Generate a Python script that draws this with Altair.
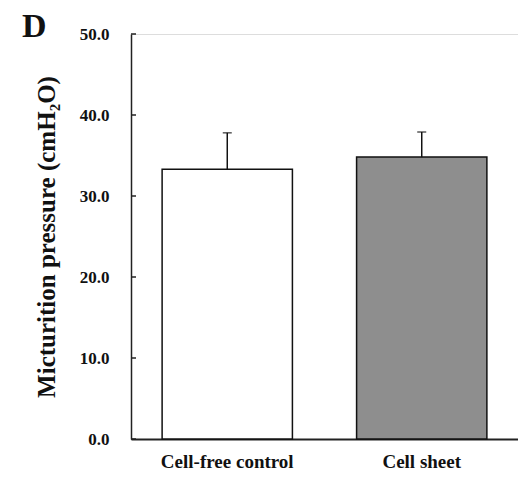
import altair as alt
import pandas as pd

groups = ["Cell-free control", "Cell sheet"]
means = [33.3, 34.8]
err_tops = [37.8, 37.9]
colors = ["#ffffff", "#8e8e8e"]
tick_values = [0, 10, 20, 30, 40, 50]

df = pd.DataFrame({"group": groups, "mean": means, "top": err_tops, "color": colors})
ticks_df = pd.DataFrame({"v": tick_values})

FONT = "Liberation Serif"

x_enc = alt.X(
    "group:N",
    sort=groups,
    scale=alt.Scale(paddingInner=0.33, paddingOuter=0.16),
    axis=alt.Axis(
        title=None, labelAngle=0, ticks=False, labelPadding=13,
        labelFont=FONT, labelFontSize=19, labelFontWeight="bold", labelColor="#111",
        domainColor="#222", domainWidth=2,
    ),
)
y_scale = alt.Scale(domain=[0, 50], nice=False)

bars = alt.Chart(df).mark_bar(stroke="#111", strokeWidth=1.5).encode(
    x=x_enc,
    y=alt.Y(
        "mean:Q",
        scale=y_scale,
        axis=alt.Axis(
            title="Micturition pressure (cmH₂O)", values=tick_values, format=".1f",
            ticks=False, labelPadding=22, grid=False,
            labelFont=FONT, labelFontSize=17, labelFontWeight="bold", labelColor="#111",
            titleFont=FONT, titleFontSize=25, titleFontWeight="bold", titleColor="#111",
            titlePadding=20, domainColor="#222", domainWidth=1.5,
        ),
    ),
    fill=alt.Fill("color:N", scale=None),
)

err = alt.Chart(df).mark_rule(color="#111", strokeWidth=1.5).encode(
    x=alt.X("group:N", sort=groups),
    y=alt.Y("mean:Q", scale=y_scale),
    y2="top:Q",
)
caps = alt.Chart(df).mark_tick(color="#111", thickness=1.5, size=9, orient="horizontal").encode(
    x=alt.X("group:N", sort=groups),
    y=alt.Y("top:Q", scale=y_scale),
)
yticks = alt.Chart(ticks_df).mark_rule(color="#222", strokeWidth=1.5).encode(
    y=alt.Y("v:Q", scale=y_scale),
    x=alt.value(0),
    x2=alt.value(5),
)

chart = alt.layer(bars, err, caps, yticks).properties(
    width=387,
    height=405,
    autosize=alt.AutoSizeParams(type="none"),
    padding={"left": 131, "top": 34, "right": 0, "bottom": 46},
    title=alt.TitleParams(
        "D", anchor="start", frame="group", font=FONT, fontSize=34, fontWeight="bold",
        color="#111", dx=-109, dy=46, baseline="alphabetic", offset=0,
    ),
).configure_view(stroke=None).configure(background="white")

chart.save("out.html", embed_options={"renderer": "svg", "actions": False})
